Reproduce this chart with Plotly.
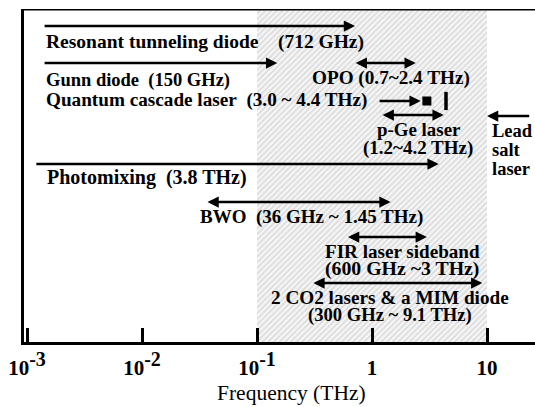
import numpy as np
import plotly.graph_objects as go

# ---------------- data ----------------
arrow_names = ["Resonant tunneling diode", "Gunn diode", "OPO", "Quantum cascade laser",
               "p-Ge laser", "Lead salt laser", "Photomixing", "BWO",
               "FIR laser sideband", "2 CO2 lasers & a MIM diode"]
arrow_start = [0.00138, 0.00138, 0.7, 1.13, 1.2, 24.0, 0.00117, 0.036, 0.6, 0.3]   # THz
arrow_end = [0.712, 0.15, 2.4, 2.65, 4.2, 10.0, 3.8, 1.45, 3.0, 9.1]              # THz
arrow_both = [False, False, True, False, True, False, False, True, True, True]

qcl_points = [3.0, 4.4]          # THz (square, bar)
thz_band = [0.1, 10.0]            # shaded THz gap

tick_vals = [0.001, 0.01, 0.1, 1, 10]
tick_base = ["10", "10", "10", "1", "10"]
tick_exp = ["-3", "-2", "-1", "", ""]

# ---------------- layout helpers ----------------
W, H = 535, 407
L, R, T, B = 24, 0, 9, 65
PX_PER_DEC = 115.0
X_ONE = 372.0  # pixel of 1 THz
xr = [(L - X_ONE) / PX_PER_DEC, (W - R - X_ONE) / PX_PER_DEC]

def px2paper(px):
    return (px - L) / (W - L - R)

row_y = [26, 63, 63, 101, 115, 116, 164, 202, 237, 283]   # pixel rows of arrows

FONT = "'Liberation Serif', 'Times New Roman', Times, serif"
fig = go.Figure()

# hatched THz band
fig.add_trace(go.Scatter(
    x=[thz_band[0], thz_band[1], thz_band[1], thz_band[0], thz_band[0]],
    y=[H - B, H - B, T, T, H - B], mode="lines", line=dict(width=0),
    fill="toself", fillcolor="#eeeeee",
    fillpattern=dict(shape="/", fgcolor="#bdbdbd", bgcolor="#f6f6f6", size=4, solidity=0.4),
    hoverinfo="skip", showlegend=False))

# QCL markers
fig.add_trace(go.Scatter(x=[qcl_points[0]], y=[101], mode="markers",
                         marker=dict(symbol="square", size=9, color="black"),
                         showlegend=False, hoverinfo="skip"))
fig.add_trace(go.Scatter(x=[qcl_points[1]], y=[101], mode="markers",
                         marker=dict(symbol="line-ns", size=13, line=dict(width=3.5, color="black")),
                         showlegend=False, hoverinfo="skip"))

annotations = []
for s, e, both, yy in zip(arrow_start, arrow_end, arrow_both, row_y):
    annotations.append(dict(
        x=np.log10(e), y=yy, ax=np.log10(s), ay=yy,
        xref="x", yref="y", axref="x", ayref="y", text="",
        showarrow=True, arrowhead=2, startarrowhead=2, arrowsize=0.9, startarrowsize=0.9,
        arrowwidth=2.5, arrowcolor="black", standoff=0, startstandoff=0,
        arrowside="end+start" if both else "end"))

NB = "\u00a0"
labels = [
    ("Resonant tunneling diode" + NB * 4 + "(712 GHz)", 45, 42, "left", 19.5),
    ("Gunn diode" + NB * 2 + "(150 GHz)", 45, 80, "left", 18.5),
    ("Quantum cascade laser" + NB * 2 + "(3.0 ~ 4.4 THz)", 45, 100, "left", 19.2),
    ("OPO (0.7~2.4 THz)", 391, 78, "center", 19.2),
    ("p-Ge laser", 418, 129, "center", 18.9),
    ("(1.2~4.2 THz)", 418, 148, "center", 19),
    ("Lead", 491, 131, "left", 18.5),
    ("salt", 491, 150, "left", 18.5),
    ("laser", 491, 169, "left", 18.5),
    ("Photomixing" + NB * 2 + "(3.8 THz)", 46, 177, "left", 20),
    ("BWO" + NB * 2 + "(36 GHz ~ 1.45 THz)", 199, 217, "left", 19),
    ("FIR laser sideband", 402, 251, "center", 19.1),
    ("(600 GHz ~3 THz)", 402, 268, "center", 19.8),
    ("2 CO2 lasers & a MIM diode", 390, 297, "center", 19.2),
    ("(300 GHz ~ 9.1 THz)", 390, 315, "center", 18.6),
]
for txt, px, py, anc, fs in labels:
    annotations.append(dict(text="<b>" + txt + "</b>", x=px2paper(px), y=py, xref="paper", yref="y",
                            xanchor=anc, yanchor="middle", showarrow=False, borderpad=0,
                            font=dict(family=FONT, size=fs, color="black")))

# axis title
annotations.append(dict(text="Frequency (THz)", x=px2paper(291), y=-(393 - (H - B)) / (H - B - T),
                        xref="paper", yref="paper", xanchor="center", yanchor="middle",
                        showarrow=False, font=dict(family=FONT, size=21.5, color="black")))

shapes = [dict(type="line", xref="paper", yref="y", x0=0, x1=1, y0=T, y1=T,
               line=dict(color="black", width=3))]

tick_text = []
for b, e in zip(tick_base, tick_exp):
    t = "<b>" + b + "</b>"
    if e:
        t += '<sup><b><span style="font-size:20px">' + e + '</span></b></sup>'
    tick_text.append(t)

fig.update_layout(
    width=W, height=H, margin=dict(l=L, r=R, t=T, b=B),
    paper_bgcolor="white", plot_bgcolor="white",
    font=dict(family=FONT),
    showlegend=False, annotations=annotations, shapes=shapes,
    xaxis=dict(type="log", range=xr, showgrid=False, zeroline=False,
               showline=True, linecolor="black", linewidth=3,
               ticks="inside", ticklen=14, tickwidth=2.5, tickcolor="black",
               tickvals=tick_vals, ticktext=tick_text,
               tickfont=dict(family=FONT, size=21, color="black"),
               ticklabelstandoff=5),
    yaxis=dict(range=[H - B, T], showgrid=False, zeroline=False, showticklabels=False,
               showline=True, linecolor="black", linewidth=3, ticks=""),
)

fig.write_html("out.html")
